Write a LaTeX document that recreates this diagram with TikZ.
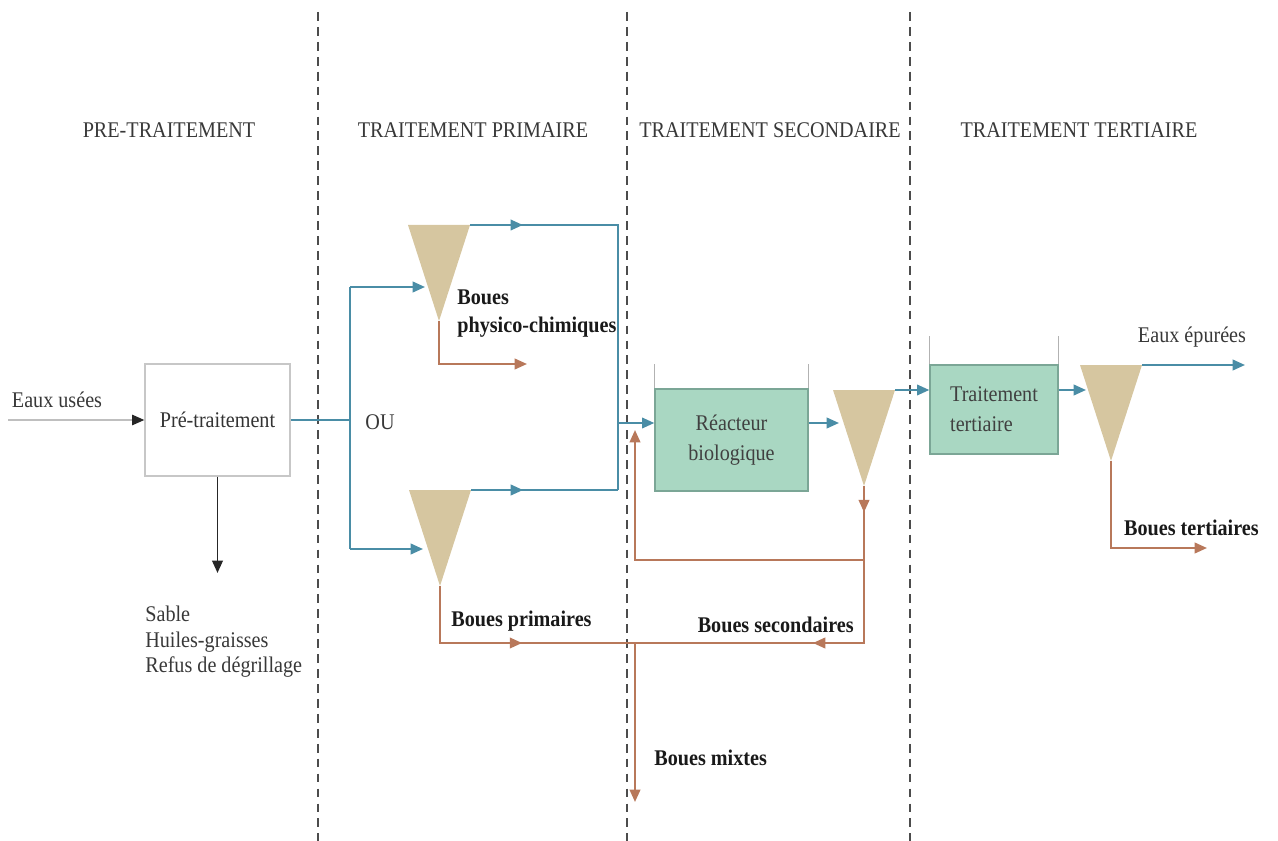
\documentclass[tikz,border=0pt]{standalone}
\usepackage{fontspec}
\setmainfont{Liberation Serif}[FakeStretch=0.9]
\usetikzlibrary{arrows.meta,decorations.markings}
\definecolor{flowblue}{HTML}{4A8DA6}
\definecolor{sludge}{HTML}{B8785A}
\definecolor{settlerfill}{HTML}{D6C6A0}
\definecolor{tankfill}{HTML}{A9D7C2}
\definecolor{tankdraw}{HTML}{7BA696}
\tikzset{
	phase/.style={text=black!78},
	stagesep/.style={draw=black!70, line width=1.1pt, dash pattern=on 5pt off 3.5pt},
	pipe/.style={color=flowblue, line width=1.2pt},
	mud/.style={color=sludge, line width=1.2pt},
	tipend/.style={-{Triangle[length=7pt,width=6pt]}},
	tipat/.style={postaction={decorate, decoration={markings, mark=at position #1 with {\arrow{Triangle[length=7pt,width=6pt]}}}}},
	prebox/.style={draw=black!22, line width=0.8pt, minimum width=2.9cm, minimum height=2.24cm, text=black!80},
	tank/.style={draw=tankdraw, fill=tankfill, line width=0.8pt, text=black!75, font=\fontsize{12.75}{17}\selectfont},
	wall/.style={draw=black!30, line width=0.5pt},
	sludgetext/.style={inner sep=0pt, text=black!90, font=\fontsize{12.75}{16}\selectfont\bfseries},
}
\newcommand{\settler}[3]{\fill[settlerfill] (#2-31,#3) coordinate (#1tl) -- (#2+31,#3) coordinate (#1tr) -- (#2,#3+96) coordinate (#1bot) -- cycle;}
\begin{document}
\begin{tikzpicture}[x=0.02cm, y=-0.02cm, font=\fontsize{12.75}{15}\selectfont]
	\useasboundingbox (0,0) rectangle (1278,841);
	\draw[stagesep] (318,12) -- (318,841);
	\draw[stagesep] (627,12) -- (627,841);
	\draw[stagesep] (910,12) -- (910,841);
	\node[phase] (hpre) at (169,130) {PRE-TRAITEMENT};
	\node[phase] (hprim) at (473,130) {TRAITEMENT PRIMAIRE};
	\node[phase] (hsec) at (770,130) {TRAITEMENT SECONDAIRE};
	\node[phase] (hter) at (1079,130) {TRAITEMENT TERTIAIRE};
	\node[prebox] (pre) at (217.5,420) {Pré-traitement};
	\coordinate (inlet) at (8,420);
	\draw[draw=black!25, line width=0.8pt, -{Triangle[length=7pt,width=6pt,color=black!85]}] (inlet) -- (pre);
	\node[phase] (inlabel) at (57,400) {Eaux usées};
	\coordinate (wasteEnd) at (217.5,573);
	\draw[draw=black!85, line width=1.1pt, tipend] (pre.south) -- (wasteEnd);
	\node[phase, align=left, anchor=north west, inner sep=0pt, font=\fontsize{12.75}{14.5}\selectfont] (waste) at (145,606) {Sable\\Huiles-graisses\\Refus de dégrillage};
	\settler{sa}{439}{225}
	\settler{sb}{440}{490}
	\settler{sc}{864}{390}
	\settler{sd}{1111}{365}
	\coordinate (split) at (350,420);
	\coordinate (splitTop) at (350,287);
	\coordinate (splitBot) at (350,549);
	\coordinate (saIn) at (425,287);
	\coordinate (sbIn) at (423,549);
	\draw[pipe] (pre.east) -- (split);
	\draw[pipe] (splitTop) -- (splitBot);
	\draw[pipe, tipend] (splitTop) -- (saIn);
	\draw[pipe, tipend] (splitBot) -- (sbIn);
	\node[phase] (ou) at (380,422) {OU};
	\coordinate (jTop) at (618,225);
	\coordinate (jMid) at (618,423);
	\coordinate (jBot) at (618,490);
	\draw[pipe, tipat=0.128] (satr) -- (jTop) -- (jBot);
	\draw[pipe, tipat=0.354] (sbtr) -- (jBot);
	\node[tank, minimum width=3.06cm, minimum height=2.04cm, align=center] (reactor) at (731.5,440) {Réacteur\\biologique};
	\draw[wall] (reactor.north west) -- ++(0,-24);
	\draw[wall] (reactor.north east) -- ++(0,-24);
	\draw[pipe, tipend] (jMid) -- (jMid -| reactor.west);
	\coordinate (scIn) at (839,423);
	\draw[pipe, tipend] (reactor.east |- scIn) -- (scIn);
	\node[tank, minimum width=2.56cm, minimum height=1.78cm, align=left] (tertiary) at (994,409.5) {Traitement\\tertiaire};
	\draw[wall] (tertiary.north west) -- ++(0,-28);
	\draw[wall] (tertiary.north east) -- ++(0,-28);
	\draw[pipe, tipend] (sctr) -- (sctr -| tertiary.west);
	\coordinate (sdIn) at (1086,390);
	\draw[pipe, tipend] (tertiary.east |- sdIn) -- (sdIn);
	\coordinate (outlet) at (1245,365);
	\draw[pipe, tipend] (sdtr) -- (outlet);
	\node[phase] (outlabel) at (1192,337) {Eaux épurées};
	\coordinate (saMud) at (527,364);
	\draw[mud, tipend] (sabot) |- (saMud);
	\node[sludgetext, align=left, anchor=west] (physlabel) at (457,314) {Boues\\physico-chimiques};
	\coordinate (mixTop) at (635,643);
	\coordinate (secCorner) at (864,643);
	\draw[mud, tipat=0.552] (sbbot) |- (mixTop);
	\node[sludgetext, anchor=west] (primlabel) at (451,621) {Boues primaires};
	\draw[mud, tipat=0.068, tipat=0.539] (scbot) -- (secCorner) -- (mixTop);
	\node[sludgetext, anchor=east] (seclabel) at (854,625) {Boues secondaires};
	\coordinate (retStart) at (864,560);
	\coordinate (retEnd) at (635,430);
	\draw[mud, tipend] (retStart) -| (retEnd);
	\coordinate (mixEnd) at (635,802);
	\draw[mud, tipend] (mixTop) -- (mixEnd);
	\node[sludgetext, anchor=west] (mixlabel) at (654,758) {Boues mixtes};
	\coordinate (sdMud) at (1207,548);
	\draw[mud, tipend] (sdbot) |- (sdMud);
	\node[sludgetext, anchor=east] (terlabel) at (1259,528) {Boues tertiaires};
\end{tikzpicture}
\end{document}
